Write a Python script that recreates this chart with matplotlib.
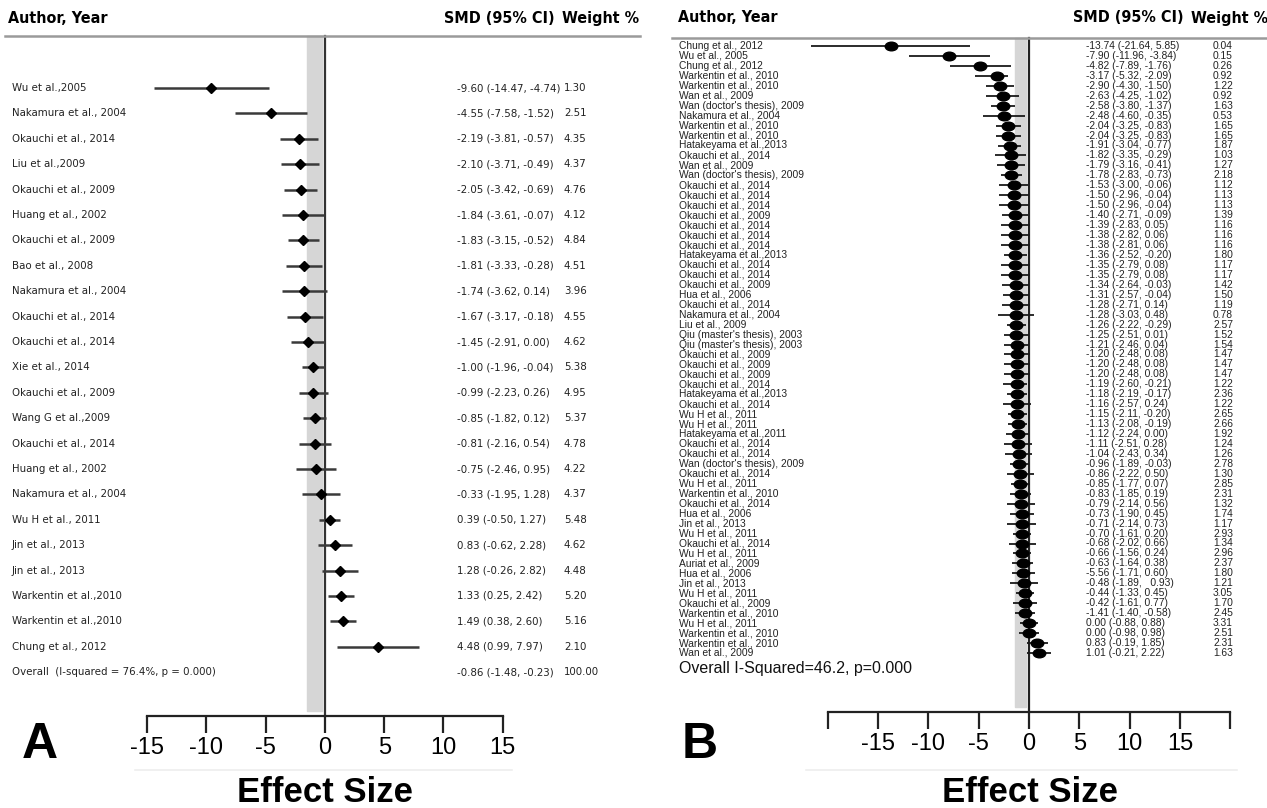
import matplotlib
matplotlib.use("Agg")
import matplotlib.pyplot as plt
from matplotlib import font_manager as fm
import numpy as np
from matplotlib.path import Path
from matplotlib.transforms import Affine2D

# ---------------- Panel A data ----------------
names_a = ["Wu et al.,2005", "Nakamura et al., 2004", "Okauchi et al., 2014", "Liu et al.,2009",
           "Okauchi et al., 2009", "Huang et al., 2002", "Okauchi et al., 2009", "Bao et al., 2008",
           "Nakamura et al., 2004", "Okauchi et al., 2014", "Okauchi et al., 2014", "Xie et al., 2014",
           "Okauchi et al., 2009", "Wang G et al.,2009", "Okauchi et al., 2014", "Huang et al., 2002",
           "Nakamura et al., 2004", "Wu H et al., 2011", "Jin et al., 2013", "Jin et al., 2013",
           "Warkentin et al.,2010", "Warkentin et al.,2010", "Chung et al., 2012"]
smd_a = [-9.60, -4.55, -2.19, -2.10, -2.05, -1.84, -1.83, -1.81, -1.74, -1.67, -1.45, -1.00,
         -0.99, -0.85, -0.81, -0.75, -0.33, 0.39, 0.83, 1.28, 1.33, 1.49, 4.48]
lo_a = [-14.47, -7.58, -3.81, -3.71, -3.42, -3.61, -3.15, -3.33, -3.62, -3.17, -2.91, -1.96,
        -2.23, -1.82, -2.16, -2.46, -1.95, -0.50, -0.62, -0.26, 0.25, 0.38, 0.99]
hi_a = [-4.74, -1.52, -0.57, -0.49, -0.69, -0.07, -0.52, -0.28, 0.14, -0.18, 0.00, -0.04,
        0.26, 0.12, 0.54, 0.95, 1.28, 1.27, 2.28, 2.82, 2.42, 2.60, 7.97]
wt_a = [1.30, 2.51, 4.35, 4.37, 4.76, 4.12, 4.84, 4.51, 3.96, 4.55, 4.62, 5.38,
        4.95, 5.37, 4.78, 4.22, 4.37, 5.48, 4.62, 4.48, 5.20, 5.16, 2.10]
overall_label_a = "Overall  (I-squared = 76.4%, p = 0.000)"
overall_a = (-0.86, -1.48, -0.23, 100.00)

# ---------------- Panel B data ----------------
names_b = ["Chung et al., 2012", "Wu et al., 2005", "Chung et al., 2012", "Warkentin et al., 2010",
           "Warkentin et al., 2010", "Wan et al., 2009", "Wan (doctor's thesis), 2009", "Nakamura et al., 2004",
           "Warkentin et al., 2010", "Warkentin et al., 2010", "Hatakeyama et al.,2013", "Okauchi et al., 2014",
           "Wan et al., 2009", "Wan (doctor's thesis), 2009", "Okauchi et al., 2014", "Okauchi et al., 2014",
           "Okauchi et al., 2014", "Okauchi et al., 2009", "Okauchi et al., 2014", "Okauchi et al., 2014",
           "Okauchi et al., 2014", "Hatakeyama et al.,2013", "Okauchi et al., 2014", "Okauchi et al., 2014",
           "Okauchi et al., 2009", "Hua et al., 2006", "Okauchi et al., 2014", "Nakamura et al., 2004",
           "Liu et al., 2009", "Qiu (master's thesis), 2003", "Qiu (master's thesis), 2003", "Okauchi et al., 2009",
           "Okauchi et al., 2009", "Okauchi et al., 2009", "Okauchi et al., 2014", "Hatakeyama et al.,2013",
           "Okauchi et al., 2014", "Wu H et al., 2011", "Wu H et al., 2011", "Hatakeyama et al.,2011",
           "Okauchi et al., 2014", "Okauchi et al., 2014", "Wan (doctor's thesis), 2009", "Okauchi et al., 2014",
           "Wu H et al., 2011", "Warkentin et al., 2010", "Okauchi et al., 2014", "Hua et al., 2006",
           "Jin et al., 2013", "Wu H et al., 2011", "Okauchi et al., 2014", "Wu H et al., 2011",
           "Auriat et al., 2009", "Hua et al., 2006", "Jin et al., 2013", "Wu H et al., 2011",
           "Okauchi et al., 2009", "Warkentin et al., 2010", "Wu H et al., 2011", "Warkentin et al., 2010",
           "Warkentin et al., 2010", "Wan et al., 2009"]
smd_b = [-13.74, -7.90, -4.82, -3.17, -2.90, -2.63, -2.58, -2.48, -2.04, -2.04, -1.91, -1.82,
         -1.79, -1.78, -1.53, -1.50, -1.50, -1.40, -1.39, -1.38, -1.38, -1.36, -1.35, -1.35,
         -1.34, -1.31, -1.28, -1.28, -1.26, -1.25, -1.21, -1.20, -1.20, -1.20, -1.19, -1.18,
         -1.16, -1.15, -1.13, -1.12, -1.11, -1.04, -0.96, -0.86, -0.85, -0.83, -0.79, -0.73,
         -0.71, -0.70, -0.68, -0.66, -0.63, -0.56, -0.48, -0.44, -0.42, -0.41, 0.00, 0.00,
         0.83, 1.01]
lo_b = [-21.64, -11.96, -7.89, -5.32, -4.30, -4.25, -3.80, -4.60, -3.25, -3.25, -3.04, -3.35,
        -3.16, -2.83, -3.00, -2.96, -2.96, -2.71, -2.83, -2.82, -2.81, -2.52, -2.79, -2.79,
        -2.64, -2.57, -2.71, -3.03, -2.22, -2.51, -2.46, -2.48, -2.48, -2.48, -2.60, -2.19,
        -2.57, -2.11, -2.08, -2.24, -2.51, -2.43, -1.89, -2.22, -1.77, -1.85, -2.14, -1.90,
        -2.14, -1.61, -2.02, -1.56, -1.64, -1.71, -1.89, -1.33, -1.61, -1.40, -0.88, -0.98,
        -0.19, -0.21]
hi_b = [-5.85, -3.84, -1.76, -2.09, -1.50, -1.02, -1.37, -0.35, -0.83, -0.83, -0.77, -0.29,
        -0.41, -0.73, -0.06, -0.04, -0.04, -0.09, 0.05, 0.06, 0.06, -0.20, 0.08, 0.08,
        -0.03, -0.04, 0.14, 0.48, -0.29, 0.01, 0.04, 0.08, 0.08, 0.08, -0.21, -0.17,
        0.24, -0.20, -0.19, 0.00, 0.28, 0.34, -0.03, 0.50, 0.07, 0.19, 0.56, 0.45,
        0.73, 0.20, 0.66, 0.24, 0.38, 0.60, 0.93, 0.45, 0.77, 0.58, 0.88, 0.98,
        1.85, 2.22]
wt_b = [0.04, 0.15, 0.26, 0.92, 1.22, 0.92, 1.63, 0.53, 1.65, 1.65, 1.87, 1.03,
        1.27, 2.18, 1.12, 1.13, 1.13, 1.39, 1.16, 1.16, 1.16, 1.80, 1.17, 1.17,
        1.42, 1.50, 1.19, 0.78, 2.57, 1.52, 1.54, 1.47, 1.47, 1.47, 1.22, 2.36,
        1.22, 2.65, 2.66, 1.92, 1.24, 1.26, 2.78, 1.30, 2.85, 2.31, 1.32, 1.74,
        1.17, 2.93, 1.34, 2.96, 2.37, 1.80, 1.21, 3.05, 1.70, 2.45, 3.31, 2.51,
        2.31, 1.63]
# CI column exactly as printed in the source figure
ci_text_b = ["-13.74 (-21.64, 5.85)", "-7.90 (-11.96, -3.84)", "-4.82 (-7.89, -1.76)", "-3.17 (-5.32, -2.09)",
             "-2.90 (-4.30, -1.50)", "-2.63 (-4.25, -1.02)", "-2.58 (-3.80, -1.37)", "-2.48 (-4.60, -0.35)",
             "-2.04 (-3.25, -0.83)", "-2.04 (-3.25, -0.83)", "-1.91 (-3.04, -0.77)", "-1.82 (-3.35, -0.29)",
             "-1.79 (-3.16, -0.41)", "-1.78 (-2.83, -0.73)", "-1.53 (-3.00, -0.06)", "-1.50 (-2.96, -0.04)",
             "-1.50 (-2.96, -0.04)", "-1.40 (-2.71, -0.09)", "-1.39 (-2.83, 0.05)", "-1.38 (-2.82, 0.06)",
             "-1.38 (-2.81, 0.06)", "-1.36 (-2.52, -0.20)", "-1.35 (-2.79, 0.08)", "-1.35 (-2.79, 0.08)",
             "-1.34 (-2.64, -0.03)", "-1.31 (-2.57, -0.04)", "-1.28 (-2.71, 0.14)", "-1.28 (-3.03, 0.48)",
             "-1.26 (-2.22, -0.29)", "-1.25 (-2.51, 0.01)", "-1.21 (-2.46, 0.04)", "-1.20 (-2.48, 0.08)",
             "-1.20 (-2.48, 0.08)", "-1.20 (-2.48, 0.08)", "-1.19 (-2.60, -0.21)", "-1.18 (-2.19, -0.17)",
             "-1.16 (-2.57, 0.24)", "-1.15 (-2.11, -0.20)", "-1.13 (-2.08, -0.19)", "-1.12 (-2.24, 0.00)",
             "-1.11 (-2.51, 0.28)", "-1.04 (-2.43, 0.34)", "-0.96 (-1.89, -0.03)", "-0.86 (-2.22, 0.50)",
             "-0.85 (-1.77, 0.07)", "-0.83 (-1.85, 0.19)", "-0.79 (-2.14, 0.56)", "-0.73 (-1.90, 0.45)",
             "-0.71 (-2.14, 0.73)", "-0.70 (-1.61, 0.20)", "-0.68 (-2.02, 0.66)", "-0.66 (-1.56, 0.24)",
             "-0.63 (-1.64, 0.38)", "-5.56 (-1.71, 0.60)", "-0.48 (-1.89,   0.93)", "-0.44 (-1.33, 0.45)",
             "-0.42 (-1.61, 0.77)", "-1.41 (-1.40, -0.58)", "0.00 (-0.88, 0.88)", "0.00 (-0.98, 0.98)",
             "0.83 (-0.19, 1.85)", "1.01 (-0.21, 2.22)"]
overall_label_b = "Overall I-Squared=46.2, p=0.000"
overall_ci_b = (-1.35, -0.25)

ticks_a = [-15, -10, -5, 0, 5, 10, 15]
ticks_b = [-20, -15, -10, -5, 0, 5, 10, 15, 20]
ticklabels_b = ["", "-15", "-10", "-5", "0", "5", "10", "15", ""]

# ---- pick a narrow font if one is installed ----
narrow_name, narrow_stretch = None, "normal"
for pref in ("liberation", "arial", ""):
    for f in fm.fontManager.ttflist:
        fn = f.fname.lower()
        if pref in fn and ("narrow" in fn or "condensed" in fn) and f.style == "normal" and f.weight in (400, "normal"):
            narrow_name, narrow_stretch = f.name, f.stretch
            break
    if narrow_name:
        break
HAVE_NARROW = narrow_name is not None
if HAVE_NARROW:
    NARROW = dict(family=[narrow_name, "DejaVu Sans"], fontstretch=narrow_stretch)
    sA, sH = 8.2, 11.5
else:
    NARROW = dict(family=["Liberation Sans", "DejaVu Sans"])
    sA, sH = 7.6, 10
ARIAL = ["Liberation Sans", "DejaVu Sans"]

W, H = 1267, 808
fig = plt.figure(figsize=(W / 100, H / 100), dpi=100)


def make_axes(px0, px1, zero_px, ppu, row0_px, row_step):
    ax = fig.add_axes([px0 / W, 0, (px1 - px0) / W, 1])
    ax.set_xlim((px0 - zero_px) / ppu, (px1 - zero_px) / ppu)
    ax.set_ylim((H - row0_px) / row_step, -row0_px / row_step)
    for s in ["top", "left", "right"]:
        ax.spines[s].set_visible(False)
    ax.set_yticks([])
    ax.patch.set_alpha(0)
    return ax


def rowpos(px, row0_px, row_step):
    return (px - row0_px) / row_step


def fx(px, px0, px1):
    return (px - px0) / (px1 - px0)


# ================= Panel A =================
A0, A1 = 0, 645
rA0, rAs = 88, 25.4
axA = make_axes(A0, A1, 325, 11.85, rA0, rAs)
tA = axA.get_yaxis_transform()
n_a = len(names_a)
y_a = np.arange(n_a)
y_ov_a = n_a
y_head_line = rowpos(36, rA0, rAs)
y_axis_a = rowpos(716, rA0, rAs)

axA.fill_betweenx([y_head_line, y_axis_a - 0.2], overall_a[1], overall_a[2], color="#d6d6d6", zorder=0)
axA.plot([0, 0], [y_head_line, y_axis_a], color="#333333", lw=1.6, zorder=1)
axA.plot([fx(5, A0, A1), fx(640, A0, A1)], [y_head_line, y_head_line], color="#9a9a9a", lw=1.8,
         transform=tA, clip_on=False)
axA.hlines(y_a, lo_a, hi_a, color="#3a3a3a", lw=1.8, zorder=2)
axA.plot(smd_a, y_a, "D", color="black", ms=5.5, zorder=3)

xa_name, xa_ci, xa_wt = fx(12, A0, A1), fx(457, A0, A1), fx(564, A0, A1)
txtA = dict(transform=tA, fontsize=sA, va="center", color="#222", **NARROW)
for i in range(n_a):
    axA.text(xa_name, y_a[i], names_a[i], **txtA)
    axA.text(xa_ci, y_a[i], f"{smd_a[i]:.2f} ({lo_a[i]:.2f}, {hi_a[i]:.2f})", **txtA)
    axA.text(xa_wt, y_a[i], f"{wt_a[i]:.2f}", **txtA)
axA.text(xa_name, y_ov_a, overall_label_a, **txtA)
axA.text(xa_ci, y_ov_a, f"{overall_a[0]:.2f} ({overall_a[1]:.2f}, {overall_a[2]:.2f})", **txtA)
axA.text(xa_wt, y_ov_a, f"{overall_a[3]:.2f}", **txtA)

hdr = dict(fontsize=sH, va="center", fontweight="bold", **NARROW)
yh = rowpos(18, rA0, rAs)
axA.text(fx(8, A0, A1), yh, "Author, Year", transform=tA, **hdr)
axA.text(fx(555, A0, A1), yh, "SMD (95% CI)", transform=tA, ha="right", **hdr)
axA.text(fx(562, A0, A1), yh, "Weight %", transform=tA, **hdr)

axA.spines["bottom"].set_position(("data", y_axis_a))
axA.spines["bottom"].set_bounds(-15, 15)
axA.spines["bottom"].set_linewidth(1.6)
axA.spines["bottom"].set_color("#222")
axA.set_xticks(ticks_a)
axA.set_xticklabels([str(t) for t in ticks_a], family=ARIAL, fontsize=17)
axA.tick_params(axis="x", direction="out", length=12, width=1.6, color="#222", pad=3)
fig.text(40 / W, 1 - 745 / H, "A", family=ARIAL, fontsize=36, fontweight="bold", ha="center", va="center")
fig.text(325 / W, 1 - 793 / H, "Effect Size", family=ARIAL, fontsize=25, fontweight="bold", ha="center",
         va="center")
fig.lines.append(plt.Line2D([135 / W, 512 / W], [1 - 770 / H, 1 - 770 / H], transform=fig.transFigure,
                            color="#eeeeee", lw=1.2))

# ================= Panel B =================
B0, B1 = 650, 1267
rB0, rBs = 46, 9.95
elli = Path.unit_circle().transformed(Affine2D().scale(1.45, 1.0))
axB = make_axes(B0, B1, 1029, 10.07, rB0, rBs)
tB = axB.get_yaxis_transform()
n_b = len(names_b)
y_b = np.arange(n_b)
yb_head = rowpos(38, rB0, rBs)
yb_axis = rowpos(712, rB0, rBs)
yb_ov = rowpos(669, rB0, rBs)

axB.fill_betweenx([yb_head, yb_axis - 0.5], overall_ci_b[0], overall_ci_b[1], color="#d6d6d6", zorder=0)
axB.plot([0, 0], [yb_head, yb_axis], color="#222", lw=1.6, zorder=1)
axB.plot([fx(672, B0, B1), 1.0], [yb_head, yb_head], color="#9a9a9a", lw=1.8, transform=tB,
         clip_on=False)
axB.hlines(y_b, lo_b, hi_b, color="#1a1a1a", lw=1.3, zorder=2)
axB.plot(smd_b, y_b, marker=elli, ls="none", color="black", ms=9, zorder=3)

xb_name, xb_ci, xb_wt = fx(679, B0, B1), fx(1086, B0, B1), fx(1213, B0, B1)
txtB = dict(transform=tB, family=ARIAL, fontsize=7.4, va="center", color="#222")
for i in range(n_b):
    axB.text(xb_name, y_b[i], names_b[i], **txtB)
    axB.text(xb_ci, y_b[i], ci_text_b[i], **txtB)
    axB.text(xb_wt, y_b[i], f"{wt_b[i]:.2f}", **txtB)
axB.text(xb_name, yb_ov, overall_label_b, transform=tB, family=ARIAL, fontsize=11.5, va="center", color="#111")

ybh = rowpos(18, rB0, rBs)
axB.text(fx(678, B0, B1), ybh, "Author, Year", transform=tB, **hdr)
axB.text(fx(1184, B0, B1), ybh, "SMD (95% CI)", transform=tB, ha="right", **hdr)
axB.text(fx(1191, B0, B1), ybh, "Weight %", transform=tB, **hdr)

axB.spines["bottom"].set_position(("data", yb_axis))
axB.spines["bottom"].set_bounds(-20, 20)
axB.spines["bottom"].set_linewidth(1.6)
axB.spines["bottom"].set_color("#222")
axB.set_xticks(ticks_b)
axB.set_xticklabels(ticklabels_b, family=ARIAL, fontsize=17)
axB.tick_params(axis="x", direction="out", length=12, width=1.6, color="#222", pad=3)
fig.text(700 / W, 1 - 745 / H, "B", family=ARIAL, fontsize=36, fontweight="bold", ha="center", va="center")
fig.text(1030 / W, 1 - 793 / H, "Effect Size", family=ARIAL, fontsize=25, fontweight="bold", ha="center",
         va="center")
fig.lines.append(plt.Line2D([806 / W, 1237 / W], [1 - 770 / H, 1 - 770 / H], transform=fig.transFigure,
                            color="#eeeeee", lw=1.2))

fig.savefig("out.png", dpi=100, facecolor="white")
